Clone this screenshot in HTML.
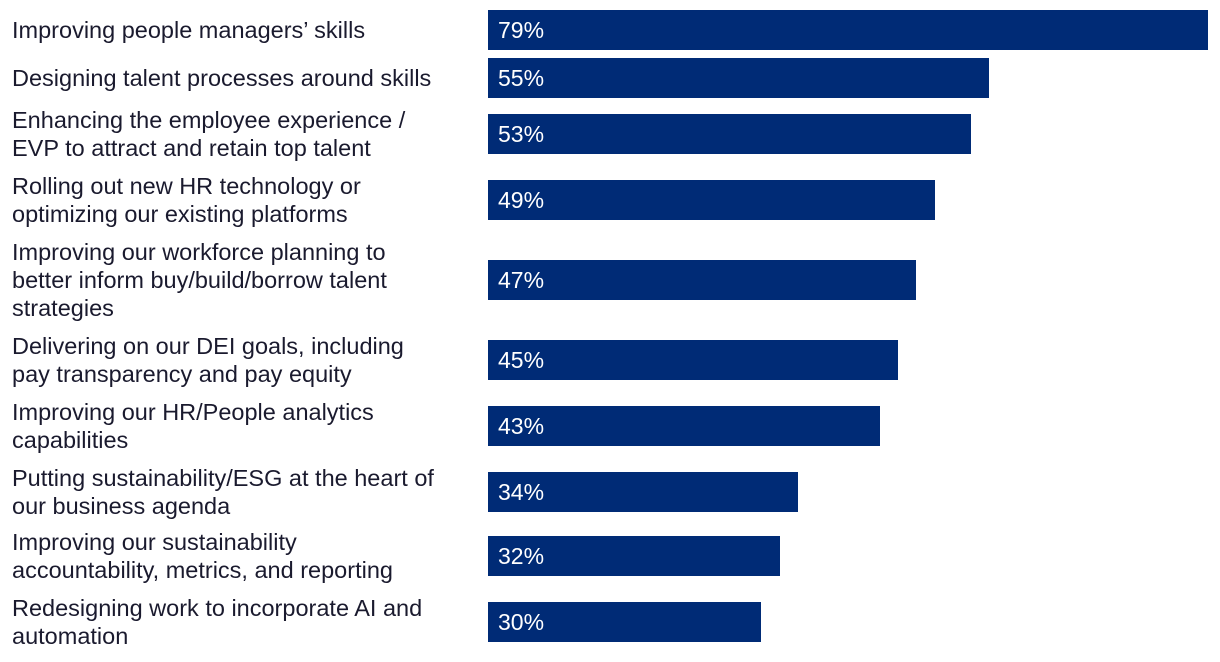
<!DOCTYPE html>
<html><head><meta charset="utf-8">
<style>
html,body{margin:0;padding:0;background:#fff;}
body{width:1220px;height:662px;position:relative;overflow:hidden;font-family:"Liberation Sans",sans-serif;}
.lbl{position:absolute;left:12px;color:#1a1a2e;font-size:23.5px;line-height:28px;white-space:nowrap;transform:translateY(-50%);}
.bar{position:absolute;left:488px;height:40px;background:#002b76;}
.val{position:absolute;left:10px;top:0;line-height:40px;color:#fff;font-size:23px;}
</style></head>
<body>
<div id="chart"></div>
<script>
const categories=["Improving people managers\u2019 skills","Designing talent processes around skills","Enhancing the employee experience /\nEVP to attract and retain top talent","Rolling out new HR technology or\noptimizing our existing platforms","Improving our workforce planning to\nbetter inform buy/build/borrow talent\nstrategies","Delivering on our DEI goals, including\npay transparency and pay equity","Improving our HR/People analytics\ncapabilities","Putting sustainability/ESG at the heart of\nour business agenda","Improving our sustainability\naccountability, metrics, and reporting","Redesigning work to incorporate AI and\nautomation"];
const values=[79,55,53,49,47,45,43,34,32,30];
const valueLabels=["79%","55%","53%","49%","47%","45%","43%","34%","32%","30%"];
const barTops=[10,58,114,180,260,340,406,472,536,602];
const pxPerUnit=720/79;
function xScale(v){return v*pxPerUnit;}
const root=document.getElementById('chart');
categories.forEach((c,i)=>{
  const l=document.createElement('div');
  l.className='lbl';
  
  
  l.style.top=(barTops[i]+20)+'px';
  l.innerHTML=c.split('\n').join('<br>');
  root.appendChild(l);
  const b=document.createElement('div');
  b.className='bar';
  
  
  b.style.top=barTops[i]+'px';
  b.style.width=xScale(values[i])+'px';
  const v=document.createElement('div');
  v.className='val';
  
  
  v.textContent=valueLabels[i];
  b.appendChild(v);
  root.appendChild(b);
});
</script>
</body></html>
